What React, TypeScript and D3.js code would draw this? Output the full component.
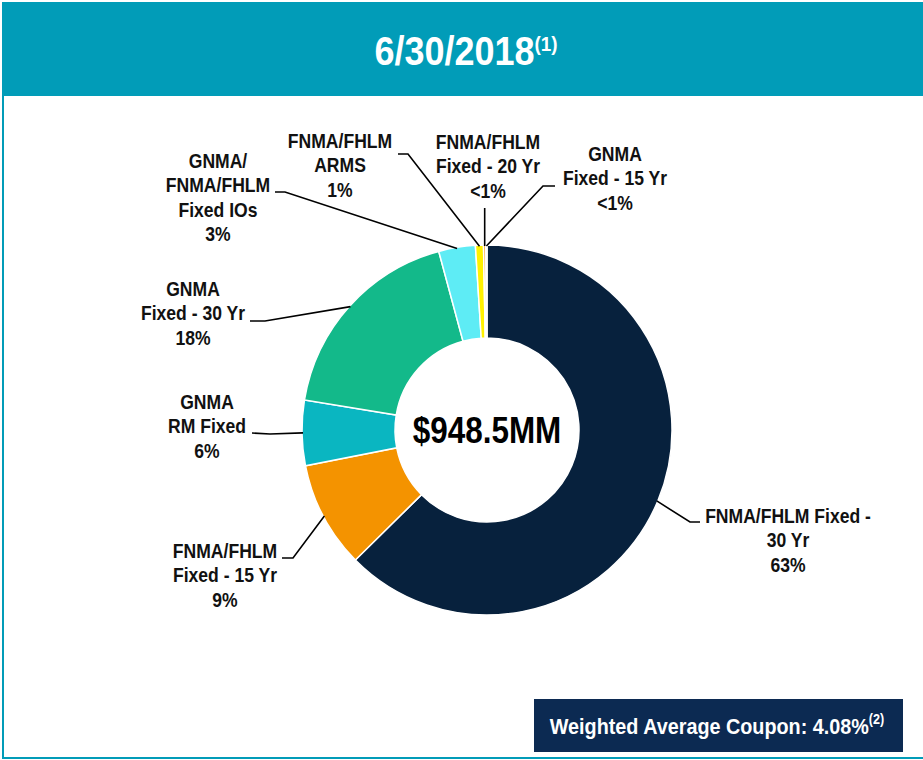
import React, { useEffect, useRef } from "react";
import * as d3 from "d3";

// slices, clockwise from 12 o'clock
const categories = [
  "FNMA/FHLM Fixed - 30 Yr",
  "FNMA/FHLM Fixed - 15 Yr",
  "GNMA RM Fixed",
  "GNMA Fixed - 30 Yr",
  "GNMA/FNMA/FHLM Fixed IOs",
  "FNMA/FHLM ARMS",
  "FNMA/FHLM Fixed - 20 Yr",
  "GNMA Fixed - 15 Yr",
];
const shares = [62.6, 9.3, 5.7, 18.2, 3.2, 0.7, 0.2, 0.1];
const shareLabels = ["63%", "9%", "6%", "18%", "3%", "1%", "<1%", "<1%"];
const labelLines = [
  ["FNMA/FHLM Fixed -", "30 Yr"],
  ["FNMA/FHLM", "Fixed - 15 Yr"],
  ["GNMA", "RM Fixed"],
  ["GNMA", "Fixed - 30 Yr"],
  ["GNMA/", "FNMA/FHLM", "Fixed IOs"],
  ["FNMA/FHLM", "ARMS"],
  ["FNMA/FHLM", "Fixed - 20 Yr"],
  ["GNMA", "Fixed - 15 Yr"],
];
const sliceColors = [
  "#07213d",
  "#f49300",
  "#0ab6c1",
  "#13b98a",
  "#5eecf5",
  "#fff100",
  "#f6a21e",
  "#cfe0ee",
];
const dateLabel = "6/30/2018";
const totalLabel = "$948.5MM";
const couponLabel = "Weighted Average Coupon: 4.08%";

// label placement: text centre x, first baseline, leader start + elbow
const labelSpots = [
  { x: 788, y: 523, lead: [[700, 522], [690, 522]] },
  { x: 225, y: 558, lead: [[282, 558], [293, 558]] },
  { x: 207, y: 409, lead: [[252, 433], [270, 434]] },
  { x: 193, y: 296, lead: [[250, 321], [265, 321]] },
  { x: 218, y: 168, lead: [[275, 192], [285, 192]] },
  { x: 340, y: 148, lead: [[398, 154], [408, 154]] },
  { x: 488, y: 149, lead: [[null, 208]] },
  { x: 615, y: 161, lead: [[555, 186], [543, 186]] },
];

// no narrow font installed, so squeeze the glyphs a bit
const FONT = "'Liberation Sans', Arial, sans-serif";
const TEAL = "#019cb8";

function PortfolioDonut() {
  const svgRef = useRef<SVGSVGElement>(null);
  const w = 923;
  const h = 760;

  useEffect(() => {
    const svg = d3.select(svgRef.current);
    svg.selectAll("*").remove();

    const cx = 487;
    const cy = 430;
    const R = 185;
    const r = 92;

    const squeezed = (x: number, y: number, sx: number) =>
      svg.append("g").attr("transform", `translate(${x},${y}) scale(${sx},1)`);

    // header band + frame
    svg.append("rect").attr("x", 2).attr("y", 2).attr("width", w - 2).attr("height", 94).attr("fill", TEAL);
    svg.append("line").attr("x1", 3).attr("x2", 3).attr("y1", 96).attr("y2", 758).attr("stroke", TEAL).attr("stroke-width", 2);
    svg.append("line").attr("x1", 2).attr("x2", w).attr("y1", 758).attr("y2", 758).attr("stroke", TEAL).attr("stroke-width", 2);

    const title = squeezed(466, 65, 0.9)
      .append("text")
      .attr("text-anchor", "middle")
      .attr("fill", "#fff")
      .style("font-family", FONT)
      .style("font-weight", "bold")
      .style("font-size", "40px");
    title.append("tspan").text(dateLabel);
    title.append("tspan").attr("dy", -14).style("font-size", "21px").text("(1)");

    const data = categories.map((c, i) => ({ name: c, value: shares[i], i }));
    const pie = d3
      .pie<any>()
      .sort(null)
      .value((d) => d.value)
      .startAngle(0)
      .endAngle(2 * Math.PI);
    const arcs = pie(data);
    const arc = d3.arc<any>().innerRadius(r).outerRadius(R);
    const rim = d3.arc<any>().innerRadius(R - 1).outerRadius(R - 1);

    const g = svg.append("g").attr("transform", `translate(${cx},${cy})`);
    g.selectAll("path")
      .data(arcs)
      .join("path")
      .attr("d", arc)
      .attr("fill", (d) => sliceColors[d.data.i])
      .attr("stroke", "#fff")
      .attr("stroke-width", 1.5);

    squeezed(cx, cy + 13, 0.85)
      .append("text")
      .attr("text-anchor", "middle")
      .style("font-family", FONT)
      .style("font-weight", "bold")
      .style("font-size", "37px")
      .attr("fill", "#000")
      .text(totalLabel);

    // leader lines + labels
    arcs.forEach((a) => {
      const i = a.data.i;
      const spot = labelSpots[i];
      const [ex, ey] = rim.centroid(a);
      const end = [cx + ex, cy + ey];
      const pts = spot.lead.map(([px, py]) => [px === null ? end[0] : px, py]);
      pts.push(end);
      svg
        .append("path")
        .attr("d", d3.line()(pts as [number, number][]))
        .attr("fill", "none")
        .attr("stroke", "#000")
        .attr("stroke-width", 1.6);

      const t = squeezed(spot.x, 0, 0.9)
        .append("text")
        .attr("text-anchor", "middle")
        .style("font-family", FONT)
        .style("font-weight", "bold")
        .style("font-size", "19.5px")
        .attr("fill", "#111");
      [...labelLines[i], shareLabels[i]].forEach((line, k) => {
        t.append("tspan").attr("x", 0).attr("y", spot.y + k * 24.5).text(line);
      });
    });

    // coupon box
    svg.append("rect").attr("x", 534).attr("y", 699).attr("width", 369).attr("height", 53).attr("fill", "#0c2a52");
    const coupon = squeezed(717, 734, 0.9)
      .append("text")
      .attr("text-anchor", "middle")
      .attr("fill", "#fff")
      .style("font-family", FONT)
      .style("font-weight", "bold")
      .style("font-size", "22px");
    coupon.append("tspan").text(couponLabel);
    coupon.append("tspan").attr("dy", -10).style("font-size", "14px").text("(2)");
  }, []);

  return (
    <svg
      ref={svgRef}
      width={w}
      height={h}
      style={{ position: "absolute", left: 0, top: 0, background: "#fff" }}
    ></svg>
  );
}

export default function App() {
  return <PortfolioDonut />;
}
